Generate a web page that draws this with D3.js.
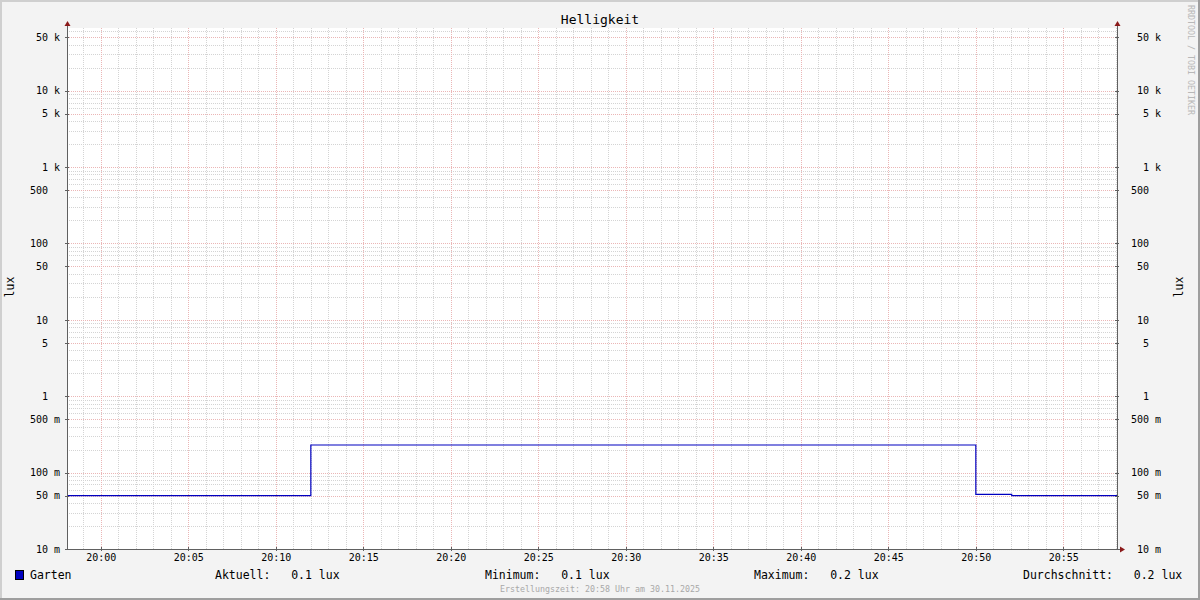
<!DOCTYPE html>
<html>
<head>
<meta charset="utf-8">
<script src="https://cdn.jsdelivr.net/npm/d3@7"></script>
<style>
  html, body { margin: 0; padding: 0; background: #f3f3f3; }
  svg { display: block; font-family: "DejaVu Sans Mono", monospace; }
  .pre { white-space: pre; }
</style>
</head>
<body>
<svg id="chart" width="1200" height="600"></svg>
<script>
// ---- data ----
const title = "Helligkeit";
const unitLabel = "lux";
const seriesName = "Garten";
const stepTimes = ["2025-11-30T19:58:04", "2025-11-30T20:12:00", "2025-11-30T20:50:00", "2025-11-30T20:52:03", "2025-11-30T20:58:04"];
const stepValues = [0.05, 0.23, 0.052, 0.05, 0.05];
const yLabelValues = [0.01, 0.05, 0.1, 0.5, 1, 5, 10, 50, 100, 500, 1000, 5000, 10000, 50000];
const timeTickLabels = ["20:00","20:05","20:10","20:15","20:20","20:25","20:30","20:35","20:40","20:45","20:50","20:55"];
const legendLabels = ["Aktuell:", "Minimum:", "Maximum:", "Durchschnitt:"];
const legendValues = ["0.1 lux", "0.1 lux", "0.2 lux", "0.2 lux"];
const footerText = "Erstellungszeit: 20:58 Uhr am 30.11.2025";
const watermark = "RRDTOOL / TOBI OETIKER";

// ---- layout ----
const W = 1200, H = 600;
const pL = 67, pR = 1117, pT = 28, pB = 549;
const svg = d3.select("#chart");

const parse = d3.timeParse("%Y-%m-%dT%H:%M:%S");
const times = stepTimes.map(parse);
const x = d3.scaleTime().domain([times[0], times[times.length - 1]]).range([pL, pR]);
const y = d3.scaleLog().domain([0.01, 66200]).range([pB, pT]);

// background & frame
svg.append("rect").attr("x", 0).attr("y", 0).attr("width", W).attr("height", H).attr("fill", "#f3f3f3");
svg.append("rect").attr("x", 0).attr("y", 0).attr("width", W).attr("height", 2).attr("fill", "#cfcfcf");
svg.append("rect").attr("x", 0).attr("y", 0).attr("width", 2).attr("height", H).attr("fill", "#cfcfcf");
svg.append("rect").attr("x", 0).attr("y", H - 2).attr("width", W).attr("height", 2).attr("fill", "#9e9e9e");
svg.append("rect").attr("x", W - 2).attr("y", 0).attr("width", 2).attr("height", H).attr("fill", "#9e9e9e");

// canvas
svg.append("rect").attr("x", pL).attr("y", pT).attr("width", pR - pL).attr("height", pB - pT).attr("fill", "#ffffff");

const grid = svg.append("g").attr("shape-rendering", "crispEdges");

// horizontal grid
const hMinor = [], hMajor = [];
for (let e = -2; e <= 4; e++) {
  for (let m = 1; m <= 9; m++) {
    const v = m * Math.pow(10, e);
    if (y(v) < pT - 0.5 || y(v) > pB + 0.5) continue;
    if (m === 1 || m === 5) hMajor.push(v); else hMinor.push(v);
  }
}
// vertical grid
const minutes = d3.timeMinute.range(d3.timeMinute.ceil(x.domain()[0]), x.domain()[1]);
const vMinor = minutes.filter(d => d.getMinutes() % 5 !== 0);
const vMajor = minutes.filter(d => d.getMinutes() % 5 === 0);

const minorColor = "#d4d4d4", majorColor = "#ebb6b6";
grid.selectAll(".hmin").data(hMinor).join("line")
  .attr("x1", pL).attr("x2", pR)
  .attr("y1", d => Math.round(y(d)) + 0.5).attr("y2", d => Math.round(y(d)) + 0.5)
  .attr("stroke", minorColor).attr("stroke-dasharray", "1,1");
grid.selectAll(".vmin").data(vMinor).join("line")
  .attr("y1", pT).attr("y2", pB)
  .attr("x1", d => Math.round(x(d)) + 0.5).attr("x2", d => Math.round(x(d)) + 0.5)
  .attr("stroke", minorColor).attr("stroke-dasharray", "1,1");
grid.selectAll(".hmaj").data(hMajor).join("line")
  .attr("x1", pL).attr("x2", pR)
  .attr("y1", d => Math.round(y(d)) + 0.5).attr("y2", d => Math.round(y(d)) + 0.5)
  .attr("stroke", majorColor).attr("stroke-dasharray", "1,1");
grid.selectAll(".vmaj").data(vMajor).join("line")
  .attr("y1", pT).attr("y2", pB)
  .attr("x1", d => Math.round(x(d)) + 0.5).attr("x2", d => Math.round(x(d)) + 0.5)
  .attr("stroke", majorColor).attr("stroke-dasharray", "1,1");

// data line
const data = times.map((t, i) => ({ t, v: stepValues[i] }));
svg.append("path").datum(data)
  .attr("fill", "none").attr("stroke", "#0000c0").attr("stroke-width", 1.2)
  .attr("d", d3.line().x(d => x(d.t)).y(d => y(d.v)).curve(d3.curveStepAfter));

// axes lines
const axisColor = "#606060";
const ax = svg.append("g").attr("shape-rendering", "crispEdges");
ax.append("line").attr("x1", pL + 0.5).attr("x2", pL + 0.5).attr("y1", pT - 3).attr("y2", pB + 0.5).attr("stroke", axisColor);
ax.append("line").attr("x1", pR + 0.5).attr("x2", pR + 0.5).attr("y1", pT - 3).attr("y2", pB + 0.5).attr("stroke", axisColor);
ax.append("line").attr("x1", pL - 2).attr("x2", pR + 3).attr("y1", pB + 0.5).attr("y2", pB + 0.5).attr("stroke", axisColor);
// small ticks on axes
ax.selectAll(".tl").data(hMajor).join("line")
  .attr("x1", pL - 2).attr("x2", pL + 2)
  .attr("y1", d => Math.round(y(d)) + 0.5).attr("y2", d => Math.round(y(d)) + 0.5).attr("stroke", axisColor);
ax.selectAll(".tr").data(hMajor).join("line")
  .attr("x1", pR - 2).attr("x2", pR + 2)
  .attr("y1", d => Math.round(y(d)) + 0.5).attr("y2", d => Math.round(y(d)) + 0.5).attr("stroke", axisColor);
ax.selectAll(".tb").data(vMajor).join("line")
  .attr("x1", d => Math.round(x(d)) + 0.5).attr("x2", d => Math.round(x(d)) + 0.5)
  .attr("y1", pB - 2).attr("y2", pB + 2).attr("stroke", axisColor);

// arrows
const arrowColor = "#8b1a1a";
[pL, pR].forEach(ax0 => {
  svg.append("path").attr("fill", arrowColor)
    .attr("d", `M${ax0 + 0.5},${pT - 7} L${ax0 + 3.5},${pT - 2} L${ax0 - 2.5},${pT - 2} Z`);
});
svg.append("path").attr("fill", arrowColor)
  .attr("d", `M${pR + 8},${pB + 0.5} L${pR + 3},${pB - 2.5} L${pR + 3},${pB + 3.5} Z`);

// y tick labels
function fmtY(v) {
  let unit = " ", n = v;
  if (v >= 1000) { unit = "k"; n = v / 1000; }
  else if (v < 1) { unit = "m"; n = v * 1000; }
  const s = String(Math.round(n));
  return s.padStart(3, " ") + " " + unit;
}
const yAxisL = d3.axisLeft(y).tickValues(yLabelValues).tickFormat(fmtY).tickSize(0).tickPadding(7);
const gL = svg.append("g").attr("transform", `translate(${pL},0)`).call(yAxisL);
const yAxisR = d3.axisRight(y).tickValues(yLabelValues).tickFormat(fmtY).tickSize(0).tickPadding(14);
const gR = svg.append("g").attr("transform", `translate(${pR},0)`).call(yAxisR);
[gL, gR].forEach(g => {
  g.select(".domain").remove();
  g.selectAll("text").attr("class", "pre").attr("font-family", "DejaVu Sans Mono").attr("font-size", 10).attr("fill", "#000");
});

// x tick labels
const xTickDates = timeTickLabels.map(s => parse("2025-11-30T" + s + ":00"));
const xAxis = d3.axisBottom(x).tickValues(xTickDates).tickFormat(d3.timeFormat("%H:%M")).tickSize(0).tickPadding(5);
const gB = svg.append("g").attr("transform", `translate(0,${pB})`).call(xAxis);
gB.select(".domain").remove();
gB.selectAll("text").attr("font-family", "DejaVu Sans Mono").attr("font-size", 10).attr("fill", "#000");

// title
svg.append("text").attr("x", 600).attr("y", 23.5).attr("text-anchor", "middle")
  .attr("font-size", 13).attr("fill", "#000").text(title);

// axis unit labels
svg.append("text").attr("transform", "translate(14,287) rotate(-90)").attr("text-anchor", "middle")
  .attr("font-size", 11.5).attr("fill", "#000").text(unitLabel);
svg.append("text").attr("transform", "translate(1183,287) rotate(-90)").attr("text-anchor", "middle")
  .attr("font-size", 11.5).attr("fill", "#000").text(unitLabel);

// watermark
svg.append("text").attr("transform", "translate(1187.5,5) rotate(90)").attr("text-anchor", "start")
  .attr("font-size", 8.3).attr("fill", "#b8b8b8").text(watermark);

// legend
svg.append("rect").attr("x", 15.5).attr("y", 570.5).attr("width", 8).attr("height", 9)
  .attr("fill", "#0000c0").attr("stroke", "#000").attr("shape-rendering", "crispEdges");
svg.append("text").attr("x", 30).attr("y", 579).attr("font-size", 11.5).attr("fill", "#000").text(seriesName);
const legX = [215, 485, 754, 1023];
legendLabels.forEach((lab, i) => {
  svg.append("text").attr("class", "pre").attr("x", legX[i]).attr("y", 579)
    .attr("font-size", 11.5).attr("fill", "#000").text(lab + "   " + legendValues[i]);
});

// footer
svg.append("text").attr("x", 600).attr("y", 592).attr("text-anchor", "middle")
  .attr("font-size", 8.3).attr("fill", "#a8a8a8").text(footerText);
</script>
</body>
</html>
